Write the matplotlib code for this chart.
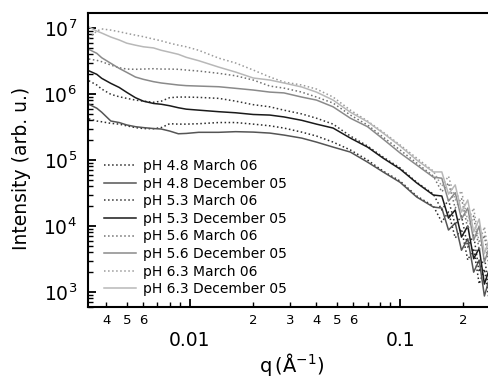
import numpy as np
import matplotlib
matplotlib.use("Agg")
import matplotlib.pyplot as plt
from matplotlib.ticker import FixedLocator, FuncFormatter, LogFormatterMathtext, NullFormatter

plt.rcParams['font.family'] = ['DejaVu Sans']

# q values (1/Angstrom)
q = [0.0033, 0.0036, 0.0038, 0.0042, 0.0046, 0.005, 0.0055, 0.006, 0.0067, 0.0073,
     0.008, 0.0088, 0.0096, 0.011, 0.0137, 0.0165, 0.02, 0.024, 0.028, 0.034,
     0.04, 0.048, 0.058, 0.07, 0.083, 0.1, 0.12,
     0.144, 0.158, 0.17, 0.183, 0.196, 0.21, 0.224, 0.238, 0.252, 0.265]

ph48_mar = [4.2e5, 3.9e5, 3.8e5, 3.6e5, 3.5e5, 3.3e5, 3.1e5, 3.0e5, 2.98e5, 3.1e5,
            3.55e5, 3.5e5, 3.5e5, 3.55e5, 3.7e5, 3.7e5, 3.5e5, 3.3e5, 3.05e5, 2.65e5,
            2.31e5, 1.87e5, 1.42e5, 1.0e5, 6.8e4, 4.8e4, 2.85e4,
            2.0e4, 1.15e4, 1.63e4, 6.6e3, 9.0e3, 3.05e3, 4.6e3, 1.32e3, 2.23e3, 7.8e2]
ph48_dec = [7.0e5, 6.1e5, 5.3e5, 3.9e5, 3.7e5, 3.4e5, 3.2e5, 3.1e5, 3.0e5, 2.95e5,
            2.75e5, 2.5e5, 2.53e5, 2.63e5, 2.63e5, 2.69e5, 2.65e5, 2.56e5, 2.39e5, 2.15e5,
            1.87e5, 1.57e5, 1.32e5, 9.3e4, 6.6e4, 4.6e4, 2.75e4,
            1.94e4, 1.87e4, 8.7e3, 1.11e4, 4.3e3, 6.4e3, 2.0e3, 3.05e3, 8.7e2, 1.52e3]
ph53_mar = [1.59e6, 1.37e6, 1.19e6, 9.9e5, 9.1e5, 8.6e5, 8.1e5, 7.8e5, 7.5e5, 7.8e5,
            8.8e5, 9.0e5, 9.0e5, 8.9e5, 8.6e5, 7.8e5, 6.9e5, 6.4e5, 5.7e5, 5.0e5,
            4.3e5, 3.5e5, 2.31e5, 1.63e5, 1.11e5, 7.6e4, 4.6e4,
            3.05e4, 1.75e4, 2.48e4, 1.04e4, 1.42e4, 4.8e3, 7.3e3, 2.0e3, 3.4e3, 1.11e3]
ph53_dec = [2.25e6, 1.99e6, 1.73e6, 1.45e6, 1.26e6, 1.06e6, 8.8e5, 7.8e5, 7.2e5, 7.0e5,
            6.65e5, 6.2e5, 5.9e5, 5.7e5, 5.4e5, 5.2e5, 4.9e5, 4.8e5, 4.5e5, 4.0e5,
            3.5e5, 3.05e5, 2.15e5, 1.57e5, 1.07e5, 7.3e4, 4.5e4,
            2.95e4, 2.85e4, 1.32e4, 1.75e4, 6.8e3, 1.0e4, 3.2e3, 4.6e3, 1.32e3, 2.15e3]
ph56_mar = [3.39e6, 3.24e6, 3.09e6, 2.75e6, 2.50e6, 2.39e6, 2.37e6, 2.39e6, 2.42e6, 2.39e6,
            2.39e6, 2.37e6, 2.31e6, 2.23e6, 2.06e6, 1.89e6, 1.63e6, 1.32e6, 1.23e6, 1.07e6,
            9.0e5, 7.3e5, 4.8e5, 3.4e5, 2.23e5, 1.42e5, 9.0e4,
            5.7e4, 3.3e4, 4.5e4, 1.87e4, 2.65e4, 9.0e3, 1.42e4, 4.3e3, 7.3e3, 2.4e3]
ph56_dec = [4.75e6, 4.14e6, 3.55e6, 2.92e6, 2.45e6, 2.13e6, 1.81e6, 1.67e6, 1.54e6, 1.47e6,
            1.42e6, 1.37e6, 1.34e6, 1.32e6, 1.29e6, 1.22e6, 1.15e6, 1.07e6, 1.04e6, 9.0e5,
            8.1e5, 6.4e5, 4.3e5, 3.2e5, 2.08e5, 1.28e5, 8.4e4,
            5.5e4, 5.3e4, 2.39e4, 3.2e4, 1.28e4, 1.87e4, 6.1e3, 1.0e4, 2.85e3, 4.6e3]
ph63_mar = [7.0e6, 9.0e6, 9.7e6, 9.3e6, 8.8e6, 8.3e6, 7.8e6, 7.4e6, 6.8e6, 6.4e6,
            5.9e6, 5.5e6, 5.2e6, 4.6e6, 3.5e6, 2.95e6, 2.31e6, 1.81e6, 1.52e6, 1.37e6,
            1.19e6, 9.0e5, 5.7e5, 3.9e5, 2.65e5, 1.69e5, 1.07e5,
            6.8e4, 4.0e4, 5.7e4, 2.48e4, 3.4e4, 1.19e4, 1.87e4, 5.5e3, 9.7e3, 3.3e3]
ph63_dec = [1.04e7, 9.0e6, 8.4e6, 7.3e6, 6.6e6, 5.9e6, 5.5e6, 5.2e6, 5.0e6, 4.6e6,
            4.3e6, 4.0e6, 3.6e6, 3.2e6, 2.56e6, 2.15e6, 1.75e6, 1.63e6, 1.47e6, 1.28e6,
            1.07e6, 8.1e5, 5.3e5, 3.8e5, 2.56e5, 1.63e5, 1.0e5,
            6.6e4, 6.6e4, 3.05e4, 4.2e4, 1.63e4, 2.48e4, 8.1e3, 1.28e4, 3.8e3, 6.1e3]

labels = ["pH 4.8 March 06", "pH 4.8 December 05", "pH 5.3 March 06", "pH 5.3 December 05",
          "pH 5.6 March 06", "pH 5.6 December 05", "pH 6.3 March 06", "pH 6.3 December 05"]
series = [ph48_mar, ph48_dec, ph53_mar, ph53_dec, ph56_mar, ph56_dec, ph63_mar, ph63_dec]
colors = ["#2a2a2a", "#555555", "#333333", "#1a1a1a", "#707070", "#8a8a8a", "#9a9a9a", "#b8b8b8"]
styles = [":", "-", ":", "-", ":", "-", ":", "-"]

fig = plt.figure(figsize=(4.89, 3.78), dpi=100)
ax = fig.add_axes([88/489, 1-307/378, 1-88/489, (307-13)/378])

for s, lab, c, ls in zip(series, labels, colors, styles):
    ax.plot(q, s, color=c, linestyle=ls, linewidth=1.1, label=lab)

ax.set_xscale('log')
ax.set_yscale('log')
ax.set_xlim(0.00327, 0.265)
ax.set_ylim(593, 1.69e7)

ax.spines['right'].set_visible(False)
for sp in ['left', 'bottom', 'top']:
    ax.spines[sp].set_linewidth(1.5)

ax.xaxis.set_major_locator(FixedLocator([0.01, 0.1]))
ax.xaxis.set_major_formatter(FuncFormatter(lambda v, p: f"{v:g}"))
minors = [m * 10.0**e for e in (-3, -2, -1) for m in range(2, 10)]
ax.xaxis.set_minor_locator(FixedLocator(minors))

def minor_fmt(v, pos):
    lead = int(round(v / 10**np.floor(np.log10(v) + 1e-9)))
    return str(lead) if lead <= 6 else ""
ax.xaxis.set_minor_formatter(FuncFormatter(minor_fmt))

ax.yaxis.set_major_locator(FixedLocator([1e3, 1e4, 1e5, 1e6, 1e7]))
ax.yaxis.set_major_formatter(LogFormatterMathtext())
yminors = [m * 10.0**e for e in range(2, 8) for m in range(2, 10)]
ax.yaxis.set_minor_locator(FixedLocator(yminors))
ax.yaxis.set_minor_formatter(NullFormatter())

ax.tick_params(axis='x', which='major', direction='in', length=6, width=1.3, pad=17, labelsize=13.5)
ax.tick_params(axis='x', which='minor', direction='in', length=3.5, width=1.0, pad=5, labelsize=9.5)
ax.tick_params(axis='y', which='major', direction='in', length=6, width=1.3, pad=8, labelsize=13.5)
ax.tick_params(axis='y', which='minor', direction='in', length=3.5, width=1.0)
ax.tick_params(top=False, right=False, which='both')

fig.text(22/489, 1-168/378, "Intensity (arb. u.)", rotation=90, ha='center', va='center', fontsize=13.5)
fig.text(292/489, 1-364/378, "q$\\,$(Å$^{\\mathregular{-1}}$)", ha='center', va='center', fontsize=14)

leg = ax.legend(loc='upper left', bbox_to_anchor=(104/489, 1-159/378), bbox_transform=fig.transFigure,
                frameon=False, fontsize=10, borderpad=0, borderaxespad=0, handlelength=2.3,
                handletextpad=0.5, labelspacing=0.26)

fig.savefig("out.png", dpi=100)
